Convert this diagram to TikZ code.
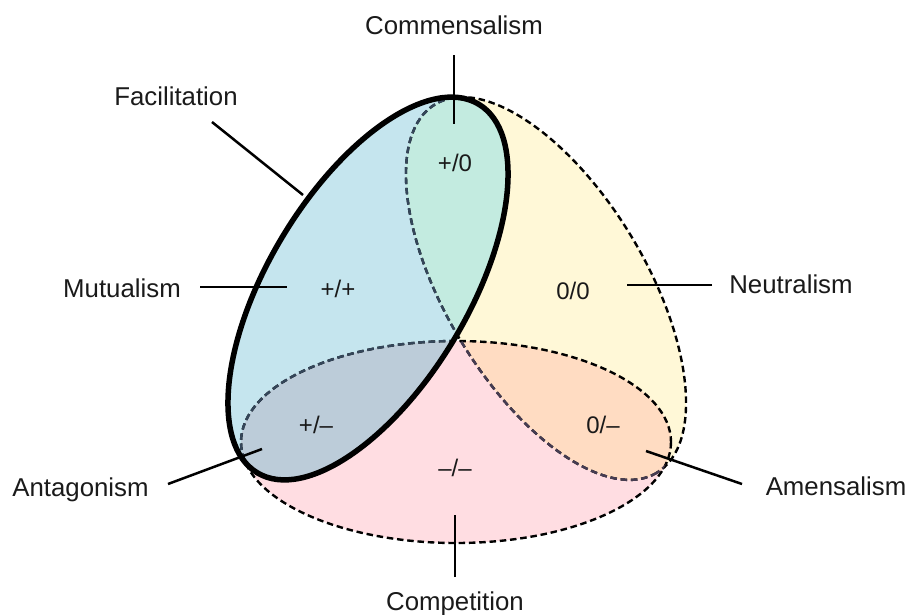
\documentclass[tikz,border=0pt]{standalone}
\usepackage{fontspec}
\setmainfont{Liberation Sans}
\definecolor{blueC}{HTML}{C5E5EE}
\definecolor{yellowC}{HTML}{FFF8D7}
\definecolor{pinkC}{HTML}{FFDDE2}
\definecolor{greenC}{HTML}{C3EBE0}
\definecolor{gbC}{HTML}{BCCCD9}
\definecolor{peachC}{HTML}{FFDCC2}
\definecolor{slateC}{HTML}{34465A}
\definecolor{mauveC}{HTML}{463C52}
\definecolor{txtC}{HTML}{1A1A1A}
\begin{document}
\begin{tikzpicture}[x=1pt,y=-1pt,
  blueT/.style={shift={(368,288.5)},rotate=59},
  yellowT/.style={shift={(546,288.5)},rotate=-59},
  pinkT/.style={shift={(456,442)}},
  lbl/.style={font=\fontsize{25.8}{28}\selectfont, anchor=base, inner sep=0pt, text=txtC},
  rlbl/.style={font=\fontsize{24}{26}\selectfont, anchor=base, inner sep=0pt, text=txtC},
  conn/.style={line width=2.5pt, line cap=butt},
  dsh/.style={line width=2.4pt, dash pattern=on 6.5pt off 3.8pt},
]
\useasboundingbox (0,0) rectangle (909,614);
% base fills
\fill[pinkC, pinkT] (0,0) ellipse [x radius=215, y radius=101];
\fill[yellowC, yellowT] (0,0) ellipse [x radius=215, y radius=100];
\fill[blueC, blueT] (0,0) ellipse [x radius=215, y radius=100];
% overlaps
\begin{scope}
  \clip[yellowT] (0,0) ellipse [x radius=215, y radius=100];
  \fill[peachC, pinkT] (0,0) ellipse [x radius=215, y radius=101];
\end{scope}
\begin{scope}
  \clip[blueT] (0,0) ellipse [x radius=215, y radius=100];
  \fill[greenC, yellowT] (0,0) ellipse [x radius=215, y radius=100];
  \fill[gbC, pinkT] (0,0) ellipse [x radius=215, y radius=101];
\end{scope}
% dashed outlines
\draw[dsh, pinkT] (0,0) ellipse [x radius=215, y radius=101];
\draw[dsh, yellowT] (0,0) ellipse [x radius=215, y radius=100];
\begin{scope}
  \clip[pinkT] (0,0) ellipse [x radius=215, y radius=101];
  \draw[dsh, mauveC, yellowT] (0,0) ellipse [x radius=215, y radius=100];
\end{scope}
\begin{scope}
  \clip[blueT] (0,0) ellipse [x radius=215, y radius=100];
  \draw[dsh, slateC, yellowT] (0,0) ellipse [x radius=215, y radius=100];
  \draw[dsh, slateC, pinkT] (0,0) ellipse [x radius=215, y radius=101];
\end{scope}
% thick facilitation ellipse
\draw[line width=5.5pt, blueT] (0,0) ellipse [x radius=215, y radius=100];

% region labels
\node[rlbl] (pz) at (455,171) {+/0};
\node[rlbl] (pp) at (338,297) {+/+};
\node[rlbl] (zz) at (573,299) {0/0};
\node[rlbl] (pm) at (316,433) {+/–};
\node[rlbl] (zm) at (603,433) {0/–};
\node[rlbl] (mm) at (455,476) {–/–};

% outer labels
\node[lbl] (comm) at (454,34) {Commensalism};
\node[lbl] (faci) at (176,105) {Facilitation};
\node[lbl] (mutu) at (122,297.5) {Mutualism};
\node[lbl] (neut) at (791,293) {Neutralism};
\node[lbl] (amen) at (836,495.5) {Amensalism};
\node[lbl] (anta) at (80.5,496) {Antagonism};
\node[lbl] (comp) at (455,610) {Competition};

% connector end points
\coordinate (commA) at (454,55);
\coordinate (commB) at (454,124);
\coordinate (faciA) at (212,122);
\coordinate (faciB) at (303,195);
\coordinate (mutuA) at (200,287);
\coordinate (mutuB) at (287,287);
\coordinate (neutA) at (712,285);
\coordinate (neutB) at (627,285);
\coordinate (amenA) at (742,484);
\coordinate (amenB) at (646,451);
\coordinate (antaA) at (168,484);
\coordinate (antaB) at (262,449);
\coordinate (compA) at (455,577);
\coordinate (compB) at (455,515);

\draw[conn] (commA) -- (commB);
\draw[conn] (faciA) -- (faciB);
\draw[conn] (mutuA) -- (mutuB);
\draw[conn] (neutA) -- (neutB);
\draw[conn] (amenA) -- (amenB);
\draw[conn] (antaA) -- (antaB);
\draw[conn] (compA) -- (compB);
\end{tikzpicture}
\end{document}
